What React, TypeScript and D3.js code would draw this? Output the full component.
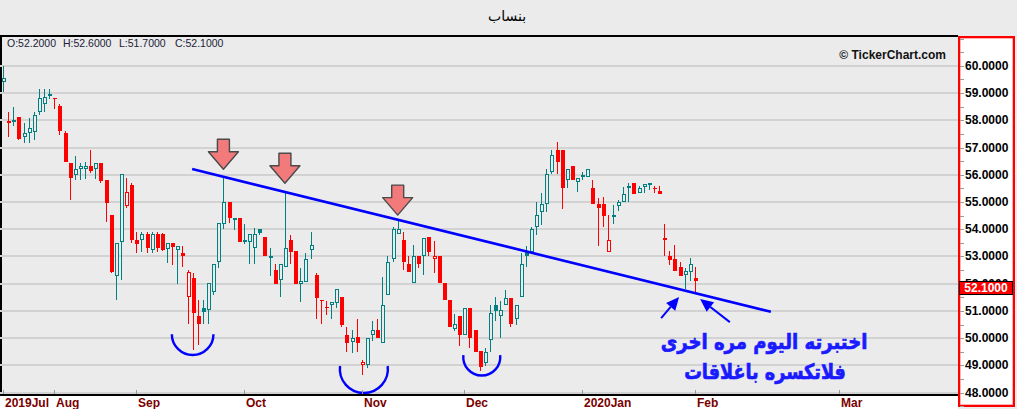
import React from "react";
import * as d3 from "d3";

// ---- data ----
const opens = [
  59.40, 57.92, 58.00, 58.12, 57.37, 57.52, 57.58, 58.29, 58.59, 58.97,
  58.80, 58.52, 57.52, 56.42, 55.99, 56.20, 56.20, 56.32, 56.20, 56.42,
  55.80, 54.52, 52.30, 53.55, 54.85, 55.62, 53.61, 53.61, 53.82, 53.24,
  53.82, 53.82, 53.28, 53.49, 53.22, 53.12, 51.53, 52.21, 50.82, 51.11,
  51.02, 51.71, 52.81, 54.18, 54.99, 54.40, 54.40, 53.62, 53.52, 53.30,
  54.00, 53.72, 53.00, 52.51, 52.13, 52.61, 53.60, 53.20, 51.99, 52.05,
  53.23, 52.33, 51.40, 51.13, 51.23, 51.29, 51.51, 50.13, 49.86, 50.03,
  49.00, 49.00, 50.13, 50.31, 49.82, 51.59, 52.91, 53.82, 53.61, 52.72,
  52.02, 53.00, 53.00, 53.71, 52.91, 53.00, 52.02, 51.41, 50.34, 50.82,
  50.10, 51.11, 50.31, 49.54, 49.09, 49.92, 51.23, 50.80, 51.23, 51.49,
  50.70, 51.53, 53.15, 53.18, 54.10, 54.62, 54.92, 56.11, 56.90, 56.90,
  55.81, 56.32, 55.72, 55.98, 55.90, 55.52, 54.92, 54.92, 53.18, 54.50,
  54.86, 54.99, 55.50, 55.69, 55.32, 55.56, 55.68, 55.52, 55.40, 53.61,
  53.03, 52.91, 52.63, 52.33, 52.42, 52.20,
];
const highs = [
  59.98, 58.32, 58.47, 58.12, 57.90, 58.10, 58.31, 59.16, 59.16, 59.16,
  58.80, 58.59, 57.60, 56.42, 56.69, 56.42, 56.48, 56.90, 56.42, 56.42,
  55.80, 54.52, 53.49, 56.02, 55.87, 55.71, 53.91, 53.91, 53.91, 53.91,
  53.91, 53.85, 53.49, 53.49, 53.39, 53.39, 52.51, 52.39, 51.41, 51.41,
  52.02, 52.72, 54.22, 55.93, 54.99, 54.42, 54.40, 54.18, 53.82, 54.04,
  54.00, 53.72, 53.33, 52.73, 52.72, 55.38, 53.79, 53.20, 52.59, 53.12,
  53.89, 52.39, 51.40, 51.37, 51.33, 51.80, 51.51, 50.43, 50.31, 50.71,
  49.21, 50.01, 50.62, 50.71, 52.23, 53.00, 54.09, 54.34, 53.91, 53.00,
  53.42, 53.00, 53.69, 53.71, 53.57, 53.00, 52.02, 51.41, 50.89, 50.82,
  51.11, 51.11, 50.31, 49.54, 49.64, 51.23, 51.53, 51.35, 51.78, 51.49,
  51.23, 53.12, 53.39, 54.09, 55.01, 55.32, 56.23, 56.90, 57.21, 56.90,
  56.23, 56.32, 55.89, 56.11, 56.20, 55.81, 55.14, 55.20, 54.52, 54.89,
  55.07, 55.56, 55.69, 55.69, 55.58, 55.66, 55.69, 55.60, 55.60, 54.18,
  53.21, 53.42, 52.81, 52.59, 52.96, 52.60,
];
const lows = [
  59.03, 57.40, 57.80, 57.28, 57.17, 57.17, 57.27, 58.19, 58.31, 58.77,
  58.40, 57.45, 56.48, 55.07, 55.80, 55.80, 55.83, 56.05, 55.83, 55.70,
  54.28, 52.40, 51.42, 52.12, 54.77, 53.49, 53.12, 53.18, 53.12, 53.12,
  53.18, 53.20, 52.76, 52.69, 52.00, 52.60, 50.52, 49.58, 49.76, 50.52,
  50.52, 51.60, 52.57, 54.00, 54.22, 53.97, 53.52, 53.47, 52.72, 52.72,
  53.79, 53.00, 52.30, 51.99, 51.51, 52.61, 52.72, 51.99, 51.33, 52.05,
  52.90, 50.71, 50.52, 50.86, 50.71, 51.11, 50.43, 49.49, 49.46, 49.49,
  48.66, 48.91, 49.88, 50.01, 49.82, 51.59, 52.81, 53.82, 52.51, 52.43,
  52.02, 52.59, 52.33, 53.00, 52.39, 52.02, 51.41, 50.40, 50.27, 49.70,
  50.10, 49.64, 49.49, 48.78, 48.97, 49.51, 50.62, 50.01, 51.23, 50.40,
  50.49, 51.53, 52.60, 53.18, 53.79, 54.16, 54.62, 56.02, 56.02, 54.74,
  55.50, 55.81, 55.38, 55.81, 55.90, 54.92, 53.40, 54.10, 53.18, 54.18,
  54.67, 54.99, 55.01, 55.28, 55.32, 55.32, 55.44, 55.32, 55.28, 53.00,
  52.69, 52.47, 52.30, 51.81, 52.11, 51.70,
];
const closes = [
  59.54, 57.98, 58.01, 57.30, 57.52, 57.70, 58.19, 58.80, 58.86, 58.98,
  58.79, 57.61, 56.48, 55.87, 56.20, 56.32, 56.33, 56.15, 56.42, 55.78,
  54.97, 52.43, 53.49, 56.02, 55.38, 53.61, 53.46, 53.82, 53.30, 53.82,
  53.30, 53.22, 53.49, 53.36, 53.39, 53.00, 52.43, 50.92, 50.52, 50.98,
  52.02, 52.72, 54.22, 54.99, 54.40, 54.42, 53.52, 53.54, 53.82, 53.83,
  53.88, 53.00, 53.02, 51.99, 52.72, 53.30, 53.18, 51.99, 52.11, 52.90,
  53.42, 51.49, 51.39, 51.12, 51.33, 51.80, 50.49, 49.82, 50.01, 49.82,
  49.13, 50.01, 50.30, 50.01, 51.23, 52.79, 54.01, 54.02, 52.79, 52.43,
  53.00, 52.72, 53.69, 53.18, 53.00, 52.02, 51.41, 50.40, 50.52, 50.10,
  51.11, 50.01, 49.49, 48.93, 49.51, 50.92, 51.01, 51.02, 51.49, 50.52,
  51.23, 52.72, 53.00, 54.00, 54.52, 54.92, 56.02, 56.72, 56.48, 55.50,
  56.23, 55.81, 55.89, 56.00, 56.20, 54.92, 54.79, 54.50, 53.61, 54.52,
  54.99, 55.28, 55.60, 55.28, 55.50, 55.66, 55.69, 55.52, 55.28, 53.69,
  52.88, 52.47, 52.30, 52.45, 52.72, 52.10,
];

const monthLabels = ["2019Jul", "Aug", "Sep", "Oct", "Nov", "Dec", "2020Jan", "Feb", "Mar"];
const monthIndex = [0, 10, 26, 47, 70, 90, 113, 135, 163];
const priceTicks = [48, 49, 50, 51, 52, 53, 54, 55, 56, 57, 58, 59, 60];

const title = "بنساب";
const ohlcLabels = ["O:52.2000", "H:52.6000", "L:51.7000", "C:52.1000"];
const noteLines = ["اختبرته اليوم مره اخرى", "فلاتكسره باغلاقات"];

// annotations in data space: [index, price]
const trendLine = [[36.9, 56.21], [149.8, 50.97]];
const peakArrows = [[43, 56.2], [55, 55.69], [77, 54.52]];
const bottomArcs = [
  [37, 50.15, 20.8, 0],
  [70.4, 48.87, 24, 3],
  [93.4, 49.31, 18.5, 2],
];
const pointerArrows = [
  [[128.4, 50.74], [131.9, 51.51]],
  [[141.8, 50.59], [136.0, 51.44]],
];

const W = 1017;
const H = 409;
const BG = "#ebebeb";
const TEAL = "#008080";
const RED = "#ff0000";
const BLUE = "#0000ff";

export default function App() {
  const x = d3.scaleLinear().domain([0, 135]).range([3, 695]);
  const y = d3.scaleLinear().domain([48, 60]).range([392.7, 65.8]);

  const candles = opens.map((o, i) => {
    const c = closes[i];
    const prev = i === 0 ? -Infinity : closes[i - 1];
    const color = c >= prev ? TEAL : RED;
    const hollow = c > o;
    const xc = Math.round(x(i));
    const top = Math.round(y(Math.max(o, c)));
    const bot = Math.round(y(Math.min(o, c)));
    const hy = Math.round(y(highs[i]));
    const ly = Math.round(y(lows[i]));
    return (
      <g key={i}>
        <line x1={xc + 0.5} x2={xc + 0.5} y1={hy} y2={ly} stroke={color} strokeWidth={1} />
        {hollow ? (
          <rect x={xc - 0.5} y={top + 0.5} width={3} height={Math.max(1, bot - top - 1)} fill={BG} stroke={color} strokeWidth={1} />
        ) : (
          <rect x={xc - 1} y={top} width={4} height={Math.max(1, bot - top)} fill={color} />
        )}
      </g>
    );
  });

  const minorTicks = d3.range(47.5, 61.01, 0.5);

  const arrowPath = (cx: number, tip: number) => {
    const p = [
      [cx - 6, tip - 30], [cx + 6, tip - 30], [cx + 6, tip - 17.5], [cx + 15, tip - 17.5],
      [cx, tip], [cx - 15, tip - 17.5], [cx - 6, tip - 17.5],
    ];
    return "M" + p.map((q) => q.join(",")).join("L") + "Z";
  };

  const arcPath = (cx: number, cy: number, r: number, lift: number) => {
    const dx = Math.sqrt(r * r - lift * lift);
    return `M${cx - dx},${cy - lift} A${r},${r} 0 ${lift > 0 ? 1 : 0} 0 ${cx + dx},${cy - lift}`;
  };

  const pointer = (t: number[], h: number[], k: number) => {
    const x1 = x(t[0]), y1 = y(t[1]), x2 = x(h[0]), y2 = y(h[1]);
    const ang = Math.atan2(y2 - y1, x2 - x1);
    const len = 13, hw = 6;
    const bx = x2 - len * Math.cos(ang), by = y2 - len * Math.sin(ang);
    const px = -Math.sin(ang) * hw, py = Math.cos(ang) * hw;
    return (
      <g key={k}>
        <line x1={x1} y1={y1} x2={bx} y2={by} stroke={BLUE} strokeWidth={2} />
        <path d={`M${x2},${y2}L${bx + px},${by + py}L${bx - px},${by - py}Z`} fill={BLUE} />
      </g>
    );
  };

  const lastClose = closes[closes.length - 1];
  const lastY = Math.round(y(lastClose));

  return (
    <div style={{ position: "absolute", left: 0, top: 0 }}>
      <svg width={W} height={H} style={{ display: "block" }}>
        <rect x={0} y={0} width={W} height={H} fill={BG} />
        {/* title */}
        <text x={507} y={21} textAnchor="middle" fontFamily="DejaVu Sans" fontSize={14} fill="#000">{title}</text>
        {/* top border */}
        <rect x={0} y={35} width={958} height={2} fill="#000" />
        {/* left border */}
        <rect x={0} y={37} width={2} height={358} fill="#000" />
        {/* gridlines */}
        {priceTicks.map((v) => (
          <line key={v} x1={0} x2={958} y1={Math.round(y(v))} y2={Math.round(y(v))} stroke="#d2d2d2" strokeWidth={2} />
        ))}
        {/* OHLC readout */}
        {ohlcLabels.map((t, i) => (
          <text key={t} x={7 + i * 56} y={47} fontFamily="Liberation Sans, Arial" fontSize={10.5} fill="#202038">{t}</text>
        ))}
        <text x={946} y={59} textAnchor="end" fontFamily="Liberation Sans, Arial" fontWeight="bold" fontSize={12} fill="#111">© TickerChart.com</text>

        {/* candles */}
        {candles}

        {/* trend line */}
        <line x1={x(trendLine[0][0])} y1={y(trendLine[0][1])} x2={x(trendLine[1][0])} y2={y(trendLine[1][1])} stroke={BLUE} strokeWidth={2.6} />

        {/* peak arrows */}
        {peakArrows.map((a, i) => (
          <path key={i} d={arrowPath(x(a[0]), y(a[1]))} fill="#f27a7a" stroke="#4a4a4a" strokeWidth={1.4} strokeLinejoin="round" />
        ))}

        {/* bottom arcs */}
        {bottomArcs.map((a, i) => (
          <path key={i} d={arcPath(x(a[0]), y(a[1]), a[2], a[3])} fill="none" stroke={BLUE} strokeWidth={2.4} />
        ))}

        {/* pointer arrows */}
        {pointerArrows.map((p, i) => pointer(p[0], p[1], i))}

        {/* note */}
        <g transform="translate(764,349) scale(0.86,1)">
          <text x={0} y={0} textAnchor="middle" fontFamily="DejaVu Sans" fontWeight="bold" fontSize={21} fill="#1a1aff" stroke="#1a1aff" strokeWidth={0.7}>{noteLines[0]}</text>
        </g>
        <g transform="translate(765,379) scale(0.84,1)">
          <text x={0} y={0} textAnchor="middle" fontFamily="DejaVu Sans" fontWeight="bold" fontSize={21} fill="#1a1aff" stroke="#1a1aff" strokeWidth={0.7}>{noteLines[1]}</text>
        </g>

        {/* x axis */}
        <rect x={0} y={396} width={958} height={13} fill="#fff" />
        <rect x={0} y={394} width={958} height={2} fill="#000" />
        {monthIndex.map((m, i) => (
          <g key={i}>
            <line x1={Math.round(x(m)) + 0.5} x2={Math.round(x(m)) + 0.5} y1={390} y2={394} stroke="#999" />
            <text x={Math.round(x(m)) + 2} y={406.5} fontFamily="Liberation Sans, Arial" fontWeight="bold" fontSize={12} fill="#7a0000">{monthLabels[i]}</text>
          </g>
        ))}

        {/* y axis */}
        <rect x={959.15} y={37.15} width={54.7} height={368.7} fill="#fff" stroke={RED} strokeWidth={2.3} />
        {minorTicks.map((v) => (
          <line key={v} x1={960} x2={964} y1={Math.round(y(v)) + 0.5} y2={Math.round(y(v)) + 0.5} stroke="#999" />
        ))}
        {priceTicks.map((v) => (
          <text key={v} x={965} y={y(v) + 4} fontFamily="Liberation Sans, Arial" fontWeight="bold" fontSize={12} fill="#000">{v.toFixed(4)}</text>
        ))}
        {/* last price label */}
        <rect x={959.5} y={lastY + 0.5} width={53} height={13} fill={RED} stroke="#000" strokeWidth={1} />
        <text x={986} y={lastY + 11} textAnchor="middle" fontFamily="Liberation Sans, Arial" fontWeight="bold" fontSize={12} fill="#fff">{lastClose.toFixed(4)}</text>
      </svg>
    </div>
  );
}
